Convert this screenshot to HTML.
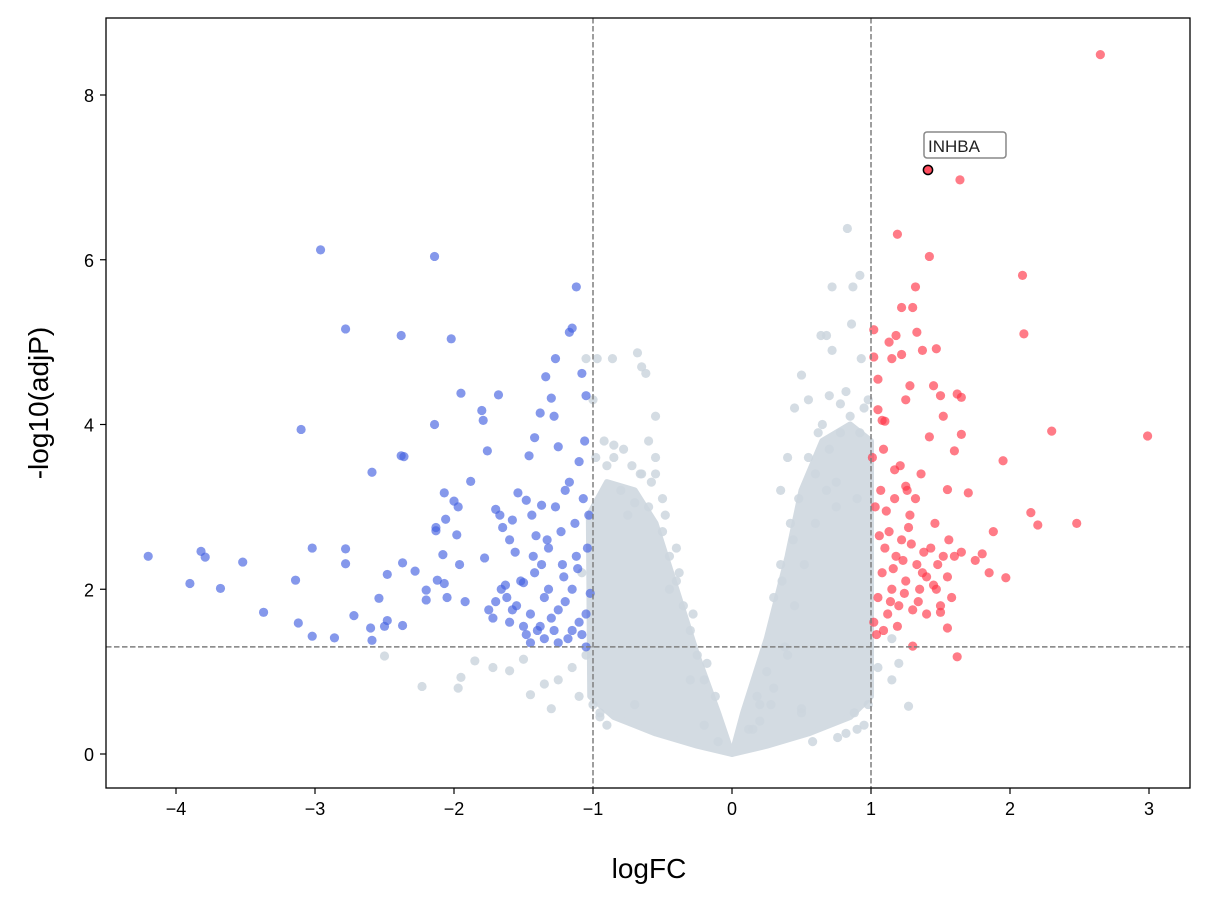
<!DOCTYPE html>
<html><head><meta charset="utf-8">
<style>
html,body{margin:0;padding:0;background:#fff;}
svg{display:block;font-family:"Liberation Sans",sans-serif;}
</style></head>
<body>
<svg id="chart" width="1211" height="906" viewBox="0 0 1211 906" xmlns="http://www.w3.org/2000/svg">
<rect x="0" y="0" width="1211" height="906" fill="#fff"/>
<g id="layer"></g>
</svg>
<script>
// ---- data ----
const xTicks = [-4,-3,-2,-1,0,1,2,3];
const yTicks = [0,2,4,6,8];
const fcThreshold = [-1, 1];
const pThreshold = 1.30103;
// density envelope of non-significant genes (dense core)
const coreLeft = [[0,0.0],[-0.25,0.1],[-0.55,0.25],[-0.85,0.45],[-1.02,0.7],[-1.03,2.9],[-0.9,3.3],[-0.7,3.2],[-0.55,2.8],[-0.4,2.0],[-0.25,1.2],[-0.1,0.5]];
const coreRight = [[0,0.0],[0.25,0.1],[0.55,0.25],[0.85,0.45],[1.0,0.7],[1.0,3.8],[0.85,4.0],[0.65,3.8],[0.5,3.2],[0.4,2.4],[0.25,1.4],[0.08,0.5]];
const grayX = [0.83,0.92,0.72,0.87,0.86,0.64,0.68,0.72,0.93,-0.86,-0.97,-0.68,-0.65,-0.62,-0.55,-0.6,-0.85,-0.55,-0.5,-0.7,0.5,0.55,0.45,0.65,0.7,0.78,0.82,0.95,-2.5,-2.23,-1.97,-1.95,-1.85,-1.72,-1.6,-1.5,-1.45,-1.35,-1.3,-1.25,-1.15,-1.1,1.05,1.15,1.2,1.27,1.15,-0.3,0.28,-1.0,-1.05,-0.9,-0.8,-0.75,0.4,0.35,0.6,0.75,0.9,-0.4,-0.45,-0.7,0.2,0.15,-0.2,-0.1,0.5,-0.95,0.98,0.4,
-0.5,-0.45,-0.4,-0.35,-0.3,-0.25,-0.2,-0.6,-0.65,-0.55,-0.48,-0.38,-0.28,-0.18,-0.12,-0.9,-0.95,-1.0,-1.05,-1.08,-0.98,-0.92,-0.85,-0.78,-0.72,-0.66,-0.58,
0.3,0.35,0.42,0.48,0.55,0.62,0.7,0.78,0.85,0.92,0.98,0.3,0.38,0.45,0.52,0.6,0.68,0.75,0.2,0.25,0.12,0.18,0.95,0.9,0.82,0.76,0.88,0.58,0.5,0.44,0.36];
const grayY = [6.38,5.81,5.67,5.67,5.22,5.08,5.08,4.9,4.8,4.8,4.8,4.87,4.7,4.62,4.1,3.8,3.75,3.4,3.1,3.05,4.6,4.3,4.2,4.0,4.35,4.25,4.4,4.2,1.19,0.82,0.8,0.93,1.13,1.05,1.01,1.15,0.72,0.85,0.55,0.9,1.05,0.7,1.05,0.9,1.1,0.58,1.4,0.9,0.6,4.3,4.8,3.5,3.2,2.9,3.6,3.2,3.4,3.3,3.1,2.5,2.0,0.6,0.4,0.3,0.35,0.15,0.55,0.45,0.6,1.2,
2.7,2.4,2.1,1.8,1.5,1.2,0.9,3.0,3.4,3.6,2.9,2.2,1.7,1.1,0.7,0.35,0.5,0.6,1.2,2.2,3.6,3.8,3.6,3.7,3.5,3.4,3.3,
1.9,2.3,2.8,3.1,3.6,3.9,3.7,3.9,4.1,3.9,4.3,0.8,1.3,1.8,2.3,2.8,3.2,3.0,0.6,1.0,0.3,0.7,0.35,0.3,0.25,0.2,0.5,0.15,0.5,2.6,2.1];
const downX = [-4.2,-3.9,-3.82,-3.79,-3.68,-3.52,-3.37,-3.14,-3.12,-3.1,-3.02,-3.02,-2.96,-2.86,-2.78,-2.78,-2.78,-2.72,-2.59,-2.59,-2.6,-2.54,-2.5,-2.48,-2.48,-2.38,-2.38,-2.36,-2.37,-2.37,-2.28,-2.2,-2.2,-2.14,-2.14,-2.13,-2.13,-2.12,-2.08,-2.07,-2.07,-2.06,-2.05,-2.02,-2.0,-1.98,-1.97,-1.96,-1.95,-1.92,-1.88,-1.8,-1.79,-1.78,-1.76,-1.72,-1.7,-1.68,-1.67,-1.65,-1.63,-1.6,-1.58,-1.56,-1.54,-1.5,-1.48,-1.46,-1.44,-1.42,-1.41,-1.38,-1.37,-1.34,-1.32,-1.3,-1.28,-1.27,-1.25,-1.2,-1.17,-1.15,-1.12,-1.1,-1.08,-1.06,-1.05,
-1.6,-1.55,-1.5,-1.45,-1.4,-1.35,-1.3,-1.25,-1.2,-1.15,-1.1,-1.05,-1.02,-1.62,-1.52,-1.42,-1.32,-1.22,-1.12,-1.04,-1.48,-1.38,-1.28,-1.18,-1.08,-1.58,-1.43,-1.33,-1.23,-1.13,-1.03,-1.27,-1.17,-1.07,-1.37,-1.21,-1.11,-1.7,-1.75,-1.66,-1.45,-1.35,-1.25,-1.15,-1.05];
const downY = [2.4,2.07,2.46,2.39,2.01,2.33,1.72,2.11,1.59,3.94,2.5,1.43,6.12,1.41,5.16,2.49,2.31,1.68,3.42,1.38,1.53,1.89,1.55,2.18,1.62,5.08,3.62,3.61,2.32,1.56,2.22,1.99,1.87,6.04,4.0,2.75,2.71,2.11,2.42,2.07,3.17,2.85,1.9,5.04,3.07,2.66,3.0,2.3,4.38,1.85,3.31,4.17,4.05,2.38,3.68,1.65,2.97,4.36,2.9,2.75,2.05,2.6,2.84,2.45,3.17,2.08,3.08,3.62,2.9,3.84,2.65,4.14,3.02,4.58,2.5,4.32,4.1,4.8,3.73,3.2,5.12,5.17,5.67,3.55,4.62,3.8,4.35,
1.6,1.8,1.55,1.7,1.5,1.9,1.65,1.75,1.85,2.0,1.6,1.7,1.95,1.9,2.1,2.2,2.0,2.3,2.4,2.5,1.45,1.55,1.5,1.4,1.45,1.75,2.4,2.6,2.7,2.8,2.9,3.0,3.3,3.1,2.3,2.15,2.25,1.85,1.75,2.0,1.35,1.4,1.35,1.5,1.3];
const upX = [1.02,1.02,1.05,1.05,1.08,1.1,1.13,1.15,1.18,1.19,1.22,1.22,1.25,1.28,1.3,1.32,1.33,1.37,1.42,1.42,1.45,1.47,1.5,1.52,1.55,1.6,1.62,1.64,1.65,1.65,1.7,1.75,1.8,1.85,1.88,1.95,1.97,2.09,2.1,2.15,2.2,2.3,2.48,2.65,2.99,1.55,1.62,1.3,1.4,1.5,
1.02,1.05,1.08,1.1,1.12,1.15,1.18,1.2,1.22,1.25,1.28,1.3,1.33,1.35,1.38,1.4,1.45,1.48,1.5,1.55,1.6,1.03,1.07,1.13,1.17,1.23,1.27,1.32,1.37,1.43,1.47,1.52,1.58,1.65,1.04,1.09,1.14,1.19,1.24,1.29,1.34,1.06,1.11,1.16,1.21,1.26,1.36,1.46,1.56,1.01,1.09,1.17,1.25];
const upY = [5.15,4.82,4.55,4.18,4.05,4.04,5.0,4.8,5.08,6.31,4.85,5.42,4.3,4.47,5.42,5.67,5.12,4.9,6.04,3.85,4.47,4.92,4.35,4.1,3.21,3.68,4.37,6.97,4.33,3.88,3.17,2.35,2.43,2.2,2.7,3.56,2.14,5.81,5.1,2.93,2.78,3.92,2.8,8.49,3.86,1.53,1.18,1.31,1.7,1.72,
1.6,1.9,2.2,2.5,1.7,2.0,2.4,1.8,2.6,2.1,2.9,1.75,2.3,2.0,2.45,2.15,2.05,2.3,1.8,2.15,2.4,3.0,3.2,2.7,3.1,2.35,2.75,3.1,2.2,2.5,2.0,2.4,1.9,2.45,1.45,1.5,1.85,1.55,1.95,2.55,1.85,2.65,2.95,2.25,3.5,3.2,3.4,2.8,2.6,3.6,3.7,3.45,3.25];
const highlightLabel = ["INHBA"];
const highlightX = [1.41];
const highlightY = [7.09];

// ---- axes ----
const L=106,R=1190,T=18,B=788;
const sx = v => 732 + v*139;
const sy = v => 754 - v*82.375;
const NS="http://www.w3.org/2000/svg";
const layer=document.getElementById('layer');
function mk(tag,attrs,parent){const e=document.createElementNS(NS,tag);for(const k in attrs)e.setAttribute(k,attrs[k]);(parent||layer).appendChild(e);return e;}

const clip=mk('clipPath',{id:'clipA'});mk('rect',{x:L,y:T,width:R-L,height:B-T},clip);
const plot=mk('g',{'clip-path':'url(#clipA)'});



[coreLeft,coreRight].forEach((poly,i)=>{
  const p=mk('polygon',{points:poly.map(q=>sx(q[0])+','+sy(q[1])).join(' '),fill:'#d3dbe2',stroke:'#d3dbe2','stroke-width':6,'stroke-linejoin':'round'},plot);
  
  
});
function dots(xs,ys,fill,op,name){
  for(let i=0;i<xs.length;i++){
    const c=mk('circle',{cx:sx(xs[i]),cy:sy(ys[i]),r:4.6,fill:fill,'fill-opacity':op},plot);
    
    
  }
}
dots(grayX,grayY,'#cdd6de',0.85,'point-nonsig');
dots(downX,downY,'#4361e0',0.65,'point-down');
dots(upX,upY,'#ff3447',0.65,'point-up');

fcThreshold.forEach(v=>{const l=mk('line',{x1:sx(v),x2:sx(v),y1:T,y2:B,stroke:'#7f7f7f','stroke-width':1.5,'stroke-dasharray':'5.5,2.5'},plot);

});
const hl=mk('line',{x1:L,x2:R,y1:sy(pThreshold),y2:sy(pThreshold),stroke:'#7f7f7f','stroke-width':1.5,'stroke-dasharray':'5.5,2.5'},plot);



for(let i=0;i<highlightX.length;i++){
  const c=mk('circle',{cx:sx(highlightX[i]),cy:sy(highlightY[i]),r:4.6,fill:'#ff4d5e',stroke:'#000','stroke-width':1.5},plot);
  
  
  const bx=mk('rect',{x:sx(highlightX[i])-4,y:sy(highlightY[i])-38,width:82,height:26,rx:3,fill:'#fff','fill-opacity':0.85,stroke:'#888','stroke-width':1.5},plot);
  
  
  const t=mk('text',{x:sx(highlightX[i]),y:sy(highlightY[i])-18,'font-size':17,fill:'#222'},plot);
  t.textContent=highlightLabel[i];
  
  
}

const frame=mk('rect',{x:L,y:T,width:R-L,height:B-T,fill:'none',stroke:'#000','stroke-width':1.3});



xTicks.forEach(v=>{
  mk('line',{x1:sx(v),x2:sx(v),y1:B,y2:B+6,stroke:'#000','stroke-width':1.2});
  const t=mk('text',{x:sx(v),y:B+27,'font-size':18,'text-anchor':'middle',fill:'#000'});
  t.textContent=v<0?'\u2212'+Math.abs(v):String(v);
  
  
});
yTicks.forEach(v=>{
  mk('line',{x1:L-6,x2:L,y1:sy(v),y2:sy(v),stroke:'#000','stroke-width':1.2});
  const t=mk('text',{x:L-12,y:sy(v)+7,'font-size':18,'text-anchor':'end',fill:'#000'});
  t.textContent=String(v);
  
  
});
const xt=mk('text',{x:649,y:878,'font-size':28,'text-anchor':'middle',fill:'#000'});
xt.textContent='logFC';


const yt=mk('text',{x:0,y:0,'font-size':28,'text-anchor':'middle',fill:'#000',transform:'translate(48,'+((T+B)/2)+') rotate(-90)'});
yt.textContent='-log10(adjP)';


</script>
</body></html>
